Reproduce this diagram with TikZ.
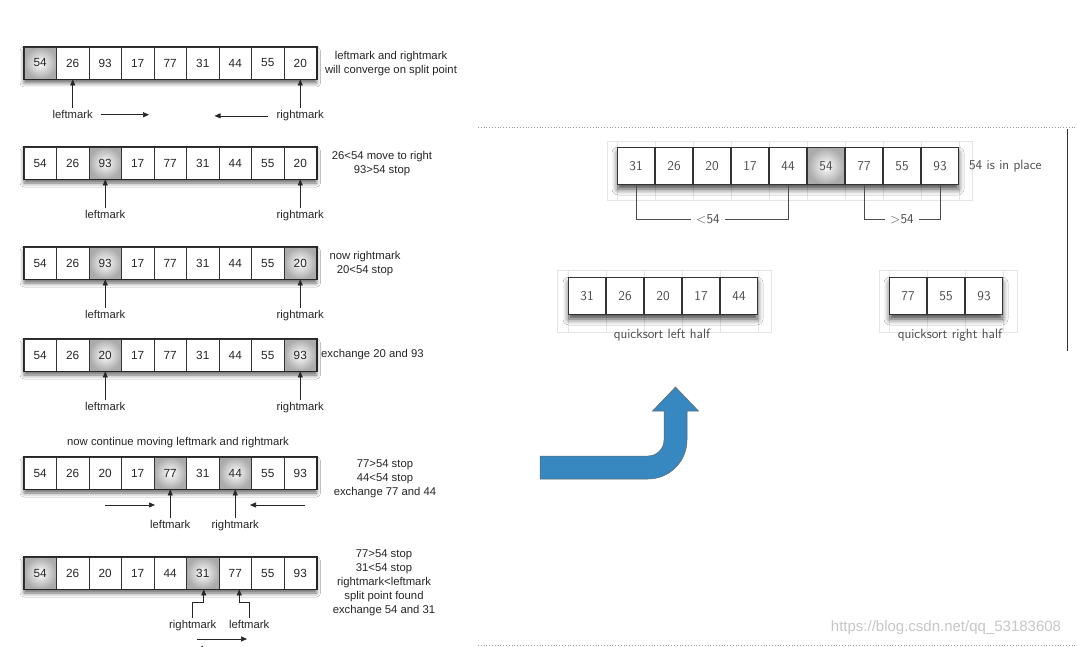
\documentclass[tikz,border=0pt]{standalone}
\usepackage{fontspec}
\newfontfamily\arialfont{Liberation Sans}
\usetikzlibrary{positioning,arrows.meta,shadows.blur}
\definecolor{arrowblue}{RGB}{55,136,192}

\begin{document}
\begin{tikzpicture}[x=1pt,y=-1pt,
    cell/.style={draw=black!80, line width=0.8pt, fill=white, minimum width=32.5pt, minimum height=32pt, inner sep=0pt, text=black!85, font=\arialfont\fontsize{11.8}{13}\selectfont},
    hot/.style={shade, shading=radial, inner color=white, outer color=black!33},
    plain/.style={},
    rowframe/.style={draw=black!85, line width=1.4pt},
    shadowbox/.style={fill=white, blur shadow={shadow xshift=0pt, shadow yshift=-4pt, shadow blur radius=4pt, shadow opacity=60}},
    deepshadow/.style={fill=white, blur shadow={shadow xshift=0pt, shadow yshift=-5pt, shadow blur radius=6pt, shadow opacity=75}},
    lbl/.style={font=\arialfont\fontsize{11.3}{13}\selectfont, text=black!85, inner sep=2pt},
    note/.style={lbl, align=center, font=\arialfont\fontsize{11.3}{14}\selectfont},
    ptr/.style={-{Triangle[length=6pt,width=5pt]}, line width=0.7pt, black!85},
    bigcell/.style={draw=black!80, line width=1.2pt, fill=white, minimum width=36.5pt, minimum height=37pt, inner sep=0pt, text=black!70, font=\sffamily\fontsize{13.5}{16}\selectfont},
    faint/.style={draw=black!10, line width=0.4pt},
    tag/.style={text=black!70, font=\sffamily\fontsize{13.5}{16}\selectfont, inner sep=1pt},
    bracket/.style={draw=black!70, line width=0.8pt}
  ]
  \useasboundingbox[fill=white] (0,0) rectangle (1077,647);

  % Left: partition steps
  \foreach \y in {63,163,263,355,473,573}
    \fill[shadowbox] (24,\y-16) rectangle (316.5,\y+16);

  % Row 1
  \foreach \v/\s [count=\i] in {54/hot,26/plain,93/plain,17/plain,77/plain,31/plain,44/plain,55/plain,20/plain}
    \node[cell,\s] (a\i) at ({7.75+32.5*\i},63) {\v};
  \node[lbl, below=29pt of a2] (la) {leftmark};
  \node[lbl, below=29pt of a9] (ra) {rightmark};
  \draw[ptr] (la) -- (a2);
  \draw[ptr] (ra) -- (a9);
  \coordinate[right=54pt of la] (ga);
  \coordinate[left=60pt of ra] (ha);
  \draw[ptr, shorten <=5.5pt] (la) -- (ga);
  \draw[ptr, shorten <=7pt] (ra) -- (ha);
  \node[note] (na) at (391,64) {leftmark and rightmark\\will converge on split point};

  % Row 2
  \foreach \v/\s [count=\i] in {54/plain,26/plain,93/hot,17/plain,77/plain,31/plain,44/plain,55/plain,20/plain}
    \node[cell,\s] (b\i) at ({7.75+32.5*\i},163) {\v};
  \node[lbl, below=29pt of b3] (lb) {leftmark};
  \node[lbl, below=29pt of b9] (rb) {rightmark};
  \draw[ptr] (lb) -- (b3);
  \draw[ptr] (rb) -- (b9);
  \node[note] (nb) at (382,164) {26<54 move to right\\93>54 stop};

  % Row 3
  \foreach \v/\s [count=\i] in {54/plain,26/plain,93/hot,17/plain,77/plain,31/plain,44/plain,55/plain,20/hot}
    \node[cell,\s] (c\i) at ({7.75+32.5*\i},263) {\v};
  \node[lbl, below=29pt of c3] (lc) {leftmark};
  \node[lbl, below=29pt of c9] (rc) {rightmark};
  \draw[ptr] (lc) -- (c3);
  \draw[ptr] (rc) -- (c9);
  \node[note] (nc) at (365,264) {now rightmark\\20<54 stop};

  % Row 4
  \foreach \v/\s [count=\i] in {54/plain,26/plain,20/hot,17/plain,77/plain,31/plain,44/plain,55/plain,93/hot}
    \node[cell,\s] (d\i) at ({7.75+32.5*\i},355) {\v};
  \node[lbl, below=29pt of d3] (ld) {leftmark};
  \node[lbl, below=29pt of d9] (rd) {rightmark};
  \draw[ptr] (ld) -- (d3);
  \draw[ptr] (rd) -- (d9);
  \node[note, anchor=west] (nd) at (319,355) {exchange 20 and 93};

  % Row 5
  \node[note] (te) at (178,443) {now continue moving leftmark and rightmark};
  \foreach \v/\s [count=\i] in {54/plain,26/plain,20/plain,17/plain,77/hot,31/plain,44/hot,55/plain,93/plain}
    \node[cell,\s] (e\i) at ({7.75+32.5*\i},473) {\v};
  \node[lbl, below=29pt of e5] (le) {leftmark};
  \node[lbl, below=29pt of e7] (re) {rightmark};
  \draw[ptr] (le) -- (e5);
  \draw[ptr] (re) -- (e7);
  \coordinate (u1) at (105,505);
  \coordinate (u2) at (155,505);
  \coordinate (v1) at (305,505);
  \coordinate (v2) at (250,505);
  \draw[ptr] (u1) -- (u2);
  \draw[ptr] (v1) -- (v2);
  \node[note] (ne) at (385,479) {77>54 stop\\44<54 stop\\exchange 77 and 44};

  % Row 6
  \foreach \v/\s [count=\i] in {54/hot,26/plain,20/plain,17/plain,44/plain,31/hot,77/plain,55/plain,93/plain}
    \node[cell,\s] (f\i) at ({7.75+32.5*\i},573) {\v};
  \node[lbl, below=29pt of f6, xshift=-10pt] (rf) {rightmark};
  \node[lbl, below=29pt of f7, xshift=14pt] (lf) {leftmark};
  \draw[ptr] (rf.north) -- ++(0,-16) -| ([xshift=1pt]f6.south);
  \draw[ptr] (lf.north) -- ++(0,-16) -| ([xshift=4pt]f7.south);
  \coordinate (w1) at (197,639);
  \coordinate (w2) at (247,639);
  \draw[ptr] (w1) -- (w2);
  \begin{scope}
    \clip (0,0) rectangle (1077,647);
    \coordinate (w3) at (247,648.5);
    \coordinate (w4) at (197,648.5);
    \draw[ptr] (w3) -- (w4);
  \end{scope}
  \node[note] (nf) at (384,583) {77>54 stop\\31<54 stop\\rightmark<leftmark\\split point found\\exchange 54 and 31};

  \foreach \r in {a,b,c,d,e,f}
    \draw[rowframe] (\r1.north west) rectangle (\r9.south east);

  % Separators
  \draw[black!40, dotted, line width=0.8pt] (478,127) -- (1077,127);
  \draw[black!40, dotted, line width=0.8pt] (478,645) -- (1077,645);
  \draw[black!80, line width=1pt] (1067,129) -- (1067,351);

  % Right: split result
  \draw[faint] (607,141) rectangle (972,200);
  \foreach \k in {0,...,9}
    \draw[faint] ({617+38*\k},141) -- ({617+38*\k},200);
  \fill[deepshadow] (618,148) rectangle (958,184);
  \foreach \v/\s [count=\i] in {31/plain,26/plain,20/plain,17/plain,44/plain,54/hot,77/plain,55/plain,93/plain}
    \node[bigcell,\s] (p\i) at ({598+38*\i},166) {\v};
  \node[tag, right=9pt of p9] (ip) {54 is in place};
  \node[tag, inner sep=5pt] (lt) at (708,219) {<54};
  \node[tag, inner sep=5pt] (gt) at (902,219) {>54};
  \draw[bracket] (p1.south) |- (lt.west);
  \draw[bracket] (lt.east) -| (p5.south);
  \draw[bracket] (p7.south) |- (gt.west);
  \draw[bracket] (gt.east) -| (p9.south);

  % Left half
  \draw[faint] (557,270) rectangle (771,332);
  \foreach \k in {0,...,5}
    \draw[faint] ({568+38*\k},270) -- ({568+38*\k},332);
  \fill[deepshadow] (569,278) rectangle (757,314);
  \foreach \v [count=\i] in {31,26,20,17,44}
    \node[bigcell] (q\i) at ({549+38*\i},296) {\v};
  \node[tag] (ql) at (662,335) {quicksort left half};

  % Right half
  \draw[faint] (879,270) rectangle (1017,332);
  \foreach \k in {0,...,3}
    \draw[faint] ({889+38*\k},270) -- ({889+38*\k},332);
  \fill[deepshadow] (890,278) rectangle (1002,314);
  \foreach \v [count=\i] in {77,55,93}
    \node[bigcell] (s\i) at ({870+38*\i},296) {\v};
  \node[tag] (qr) at (950,335) {quicksort right half};

  % Bent arrow
  \draw[fill=arrowblue, draw=black!60, line width=0.5pt]
    (540,456) -- (648,456) .. controls (656.8,456) and (664,448.8) .. (664,440)
    -- (664,411) -- (652.5,411) -- (675.5,387) -- (698.5,411) -- (687,411)
    -- (687,440) .. controls (687,461.5) and (669.5,479) .. (648,479)
    -- (540,479) -- cycle;

  \node[text=black!22, font=\arialfont\fontsize{15}{17}\selectfont] (wm) at (946,628) {https://blog.csdn.net/qq\_53183608};
\end{tikzpicture}
\end{document}
